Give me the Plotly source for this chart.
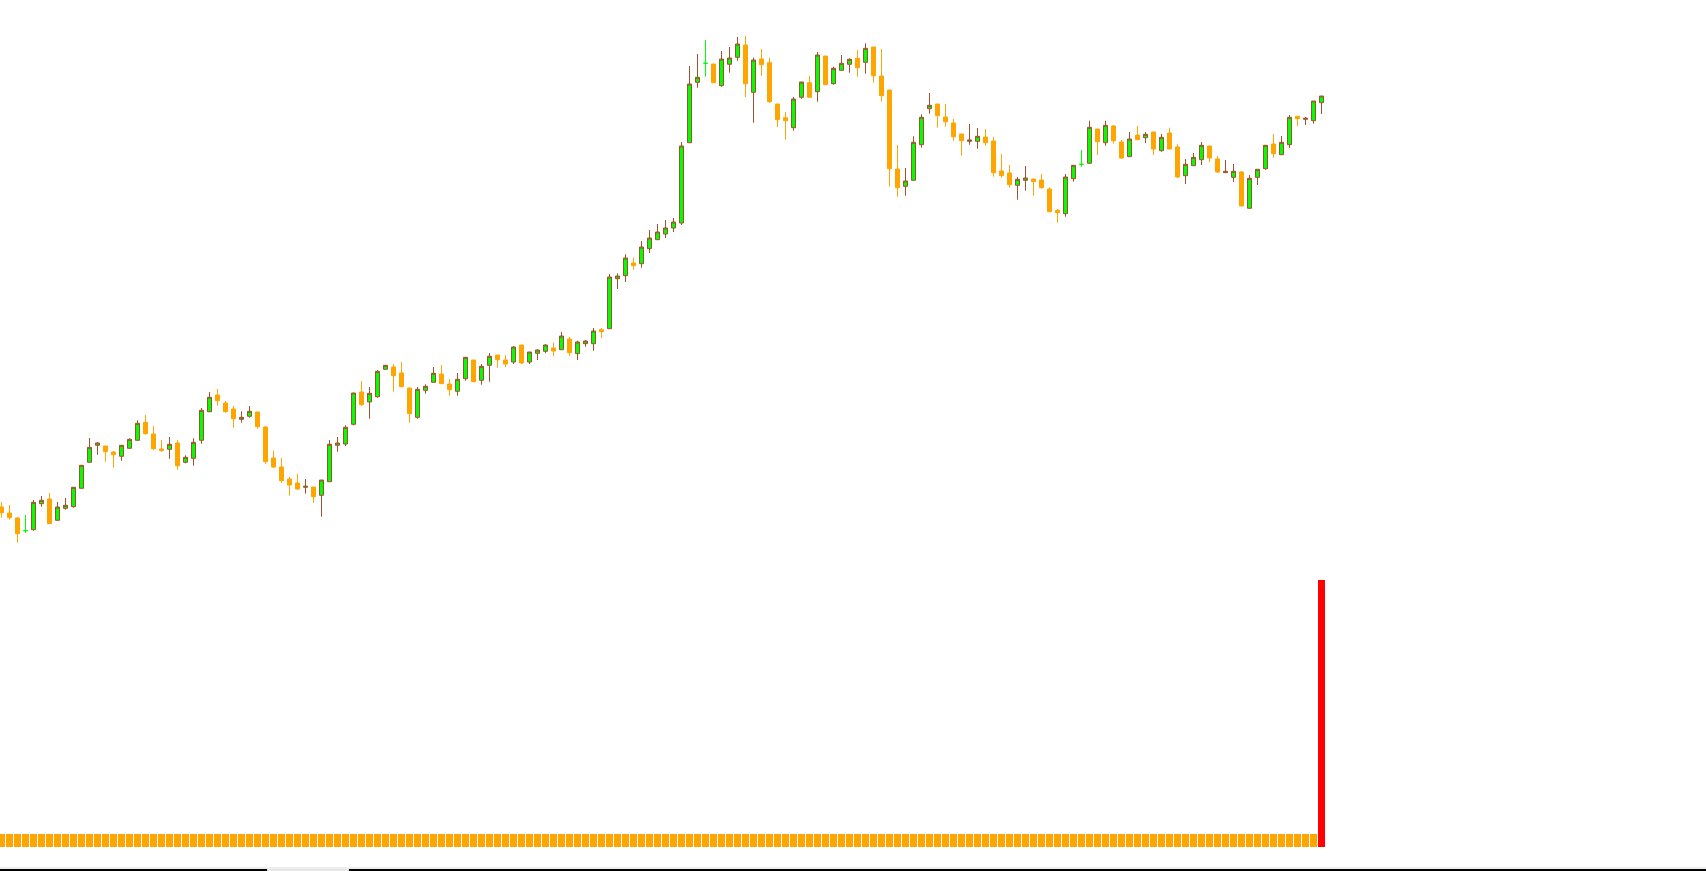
import plotly.graph_objects as go

# ---- data (price units, arbitrary scale) ----
open_ = [93.0, 87.0, 82.0, 69.3, 70.3, 96.3, 101.0, 79.7, 91.7, 93.3,
         111.7, 137.7, 154.7, 154.0, 148.0, 143.7, 151.7, 159.7, 177.7, 166.0,
         151.0, 150.7, 157.0, 137.7, 141.7, 159.7, 188.3, 205.0, 197.0, 191.0,
         180.7, 183.7, 188.0, 173.0, 142.0, 133.0, 121.0, 117.0, 112.7, 113.0,
         104.7, 118.3, 154.7, 156.0, 175.7, 208.0, 198.0, 203.3, 230.7, 233.0,
         227.0, 212.0, 182.7, 209.7, 217.7, 226.0, 216.0, 208.7, 221.3, 240.0,
         219.7, 234.7, 245.0, 240.0, 238.0, 255.0, 238.0, 246.7, 248.7, 252.0,
         250.3, 261.0, 246.3, 256.3, 256.3, 270.3, 271.3, 321.3, 324.3, 337.0,
         336.3, 351.3, 360.3, 366.0, 372.0, 377.0, 457.3, 517.7, 536.7, 536.0,
         514.3, 535.7, 542.7, 555.0, 507.7, 541.0, 537.3, 496.0, 482.3, 472.3,
         502.7, 517.3, 508.3, 544.0, 516.3, 529.7, 535.7, 541.7, 537.7, 553.0,
         524.0, 510.0, 431.0, 413.7, 419.7, 455.3, 491.3, 496.0, 483.0, 477.0,
         466.0, 458.7, 458.7, 463.0, 459.0, 429.0, 427.0, 414.7, 419.7, 421.0,
         420.0, 411.0, 389.7, 386.3, 421.3, 435.7, 436.7, 471.0, 457.3, 474.0,
         458.0, 443.3, 465.0, 462.3, 468.0, 449.3, 467.0, 453.0, 424.3, 434.3,
         440.3, 454.0, 441.0, 427.3, 422.7, 428.0, 391.7, 422.7, 431.3, 456.0,
         445.3, 455.3, 483.7, 480.7, 479.3, 497.3]
high = [98.0, 95.0, 83.0, 85.0, 100.0, 104.0, 107.0, 98.0, 102.0, 113.0,
        134.7, 162.0, 158.0, 154.0, 149.0, 154.7, 161.7, 179.7, 185.0, 174.0,
        160.0, 163.0, 160.0, 144.7, 161.7, 192.0, 208.0, 211.0, 199.0, 194.0,
        188.7, 194.0, 188.0, 174.0, 149.3, 142.0, 123.0, 126.0, 121.0, 113.0,
        120.0, 160.0, 163.0, 174.7, 207.3, 219.0, 213.0, 229.7, 234.7, 236.0,
        238.0, 212.0, 213.0, 215.7, 233.0, 235.0, 221.0, 227.0, 243.0, 240.0,
        236.0, 247.0, 245.0, 245.0, 253.7, 255.0, 248.0, 250.7, 256.0, 257.3,
        268.0, 263.0, 259.3, 260.0, 272.0, 272.0, 326.0, 326.7, 345.7, 342.3,
        359.0, 370.0, 376.0, 380.0, 382.0, 458.0, 534.0, 546.0, 560.0, 536.0,
        549.0, 553.0, 563.0, 564.0, 542.3, 551.0, 542.3, 496.0, 488.0, 503.0,
        518.0, 524.0, 548.0, 544.0, 533.3, 545.0, 541.7, 550.0, 556.7, 553.0,
        551.0, 510.0, 455.0, 432.0, 463.7, 485.7, 507.0, 496.0, 496.0, 481.0,
        466.0, 476.0, 472.0, 471.0, 463.0, 446.0, 435.0, 423.0, 434.0, 421.0,
        426.0, 412.7, 391.0, 426.0, 435.0, 450.0, 479.3, 471.0, 479.3, 475.0,
        460.0, 468.0, 474.0, 468.0, 468.0, 466.0, 472.3, 455.7, 441.0, 447.0,
        458.0, 454.0, 444.0, 440.0, 436.0, 429.0, 425.0, 430.7, 454.7, 466.0,
        464.0, 485.0, 483.7, 483.0, 499.0, 504.0]
low = [82.3, 80.3, 57.3, 67.3, 69.3, 93.3, 76.3, 79.7, 90.3, 92.3,
       111.7, 137.7, 145.3, 138.3, 132.3, 139.3, 151.7, 159.7, 165.3, 150.0,
       148.3, 141.3, 130.3, 136.7, 134.3, 156.3, 188.3, 194.3, 187.3, 172.3,
       177.3, 182.3, 171.3, 136.3, 132.0, 117.3, 104.3, 110.0, 106.3, 97.3,
       83.3, 118.3, 148.3, 154.0, 174.7, 194.3, 181.3, 202.3, 230.7, 208.3,
       213.3, 177.3, 181.3, 206.3, 217.7, 216.3, 204.3, 204.3, 219.3, 218.3,
       215.3, 218.3, 232.3, 233.0, 236.0, 236.0, 236.0, 240.0, 246.7, 244.0,
       250.3, 244.0, 240.0, 253.3, 249.3, 262.0, 271.3, 311.0, 318.0, 330.3,
       332.3, 347.0, 360.3, 362.0, 368.0, 375.0, 457.3, 512.3, 523.3, 517.3,
       513.3, 527.3, 539.3, 503.0, 477.3, 524.3, 497.0, 473.0, 460.3, 469.3,
       501.3, 502.0, 498.3, 515.3, 515.3, 529.7, 527.3, 523.3, 526.3, 517.3,
       498.3, 413.3, 403.3, 404.3, 419.7, 452.3, 486.3, 472.3, 473.3, 459.3,
       444.3, 455.3, 451.3, 454.3, 423.3, 422.3, 412.3, 400.3, 409.3, 404.3,
       411.3, 388.3, 377.3, 383.3, 418.3, 433.3, 436.7, 445.0, 454.3, 456.3,
       441.0, 443.3, 460.3, 457.0, 445.0, 448.3, 451.0, 422.0, 416.0, 434.3,
       435.0, 438.0, 427.0, 427.3, 418.0, 394.0, 391.7, 415.0, 430.3, 442.3,
       445.3, 452.0, 474.0, 475.0, 476.3, 486.0]
close = [87.3, 82.3, 66.3, 69.3, 97.7, 99.7, 76.3, 93.0, 94.7, 112.7,
         134.7, 152.7, 157.0, 148.3, 145.3, 154.7, 160.7, 176.7, 166.3, 151.3,
         149.3, 155.7, 134.3, 142.7, 157.7, 189.7, 202.7, 199.3, 188.3, 181.3,
         182.7, 188.7, 173.3, 138.3, 133.0, 119.3, 115.0, 111.0, 113.7, 103.3,
         120.0, 155.7, 157.0, 172.7, 207.0, 195.3, 206.7, 228.7, 234.7, 224.3,
         213.3, 186.3, 210.7, 213.7, 226.7, 216.3, 210.3, 220.7, 242.7, 218.3,
         233.7, 243.7, 240.3, 236.0, 253.0, 237.0, 248.0, 250.0, 255.0, 249.0,
         264.0, 247.3, 258.0, 259.0, 269.0, 268.3, 323.0, 324.0, 342.0, 334.3,
         353.0, 362.0, 368.0, 372.0, 378.0, 454.0, 516.0, 522.7, 536.7, 517.3,
         541.0, 542.0, 556.0, 516.3, 540.0, 535.3, 498.3, 480.3, 479.3, 501.0,
         518.0, 502.7, 545.0, 515.3, 531.7, 536.7, 540.7, 532.3, 551.7, 524.3,
         504.3, 431.3, 412.3, 419.0, 457.7, 482.7, 494.7, 484.3, 478.3, 463.3,
         459.3, 460.0, 463.7, 457.3, 427.3, 424.3, 415.3, 420.7, 422.0, 418.3,
         412.3, 388.3, 387.3, 423.0, 434.7, 435.7, 472.7, 458.3, 474.7, 459.3,
         442.0, 461.0, 460.3, 465.7, 451.0, 462.7, 451.0, 423.0, 435.7, 442.7,
         454.7, 442.0, 428.0, 428.7, 428.7, 394.0, 421.7, 430.7, 454.7, 446.3,
         457.7, 482.7, 481.3, 481.7, 499.0, 504.0]
volume = [100, 100, 100, 100, 100, 100, 100, 100, 100, 100,
          100, 100, 100, 100, 100, 100, 100, 100, 100, 100,
          100, 100, 100, 100, 100, 100, 100, 100, 100, 100,
          100, 100, 100, 100, 100, 100, 100, 100, 100, 100,
          100, 100, 100, 100, 100, 100, 100, 100, 100, 100,
          100, 100, 100, 100, 100, 100, 100, 100, 100, 100,
          100, 100, 100, 100, 100, 100, 100, 100, 100, 100,
          100, 100, 100, 100, 100, 100, 100, 100, 100, 100,
          100, 100, 100, 100, 100, 100, 100, 100, 100, 100,
          100, 100, 100, 100, 100, 100, 100, 100, 100, 100,
          100, 100, 100, 100, 100, 100, 100, 100, 100, 100,
          100, 100, 100, 100, 100, 100, 100, 100, 100, 100,
          100, 100, 100, 100, 100, 100, 100, 100, 100, 100,
          100, 100, 100, 100, 100, 100, 100, 100, 100, 100,
          100, 100, 100, 100, 100, 100, 100, 100, 100, 100,
          100, 100, 100, 100, 100, 100, 100, 100, 100, 100,
          100, 100, 100, 100, 100, 2054]
# candles drawn as green crosses (open == close)
green_doji = [3, 88, 135]

# ---- styles ----
UP_FILL = "#00ff00"
UP_LINE = "#a0522d"
DOWN = "#ffa500"
VOL_NORMAL = "#ffa500"
VOL_HIGH = "#ff0000"

W, H = 1706, 871
n = len(open_)
x = list(range(n))

def masked(arr, keep):
    return [v if keep(i) else None for i, v in enumerate(arr)]

is_main = lambda i: i not in green_doji

fig = go.Figure()
fig.add_trace(go.Candlestick(
    x=x,
    open=masked(open_, is_main), high=masked(high, is_main),
    low=masked(low, is_main), close=masked(close, is_main),
    increasing=dict(fillcolor=UP_FILL, line=dict(color=UP_LINE, width=1)),
    decreasing=dict(fillcolor=DOWN, line=dict(color=DOWN, width=1)),
    whiskerwidth=0, showlegend=False, hoverinfo="skip",
))
fig.add_trace(go.Candlestick(
    x=green_doji,
    open=[open_[i] for i in green_doji], high=[high[i] for i in green_doji],
    low=[low[i] for i in green_doji], close=[close[i] for i in green_doji],
    increasing=dict(fillcolor=UP_FILL, line=dict(color=UP_FILL, width=1)),
    decreasing=dict(fillcolor=UP_FILL, line=dict(color=UP_FILL, width=1)),
    whiskerwidth=0, showlegend=False, hoverinfo="skip",
))
vmax = max(volume)
fig.add_trace(go.Bar(
    x=x, y=volume, yaxis="y2",
    marker=dict(color=[VOL_HIGH if v == vmax else VOL_NORMAL for v in volume],
                line=dict(width=0)),
    showlegend=False, hoverinfo="skip",
))

px_per_bar = 8.0
x0 = -1.5 / px_per_bar
x1 = x0 + W / px_per_bar

# price axis: value p -> pixel row 600 - p
# volume axis: value v -> pixel row 847 - 0.13 v
vs = 0.13
fig.update_layout(
    width=W, height=H,
    margin=dict(l=0, r=0, t=0, b=0, pad=0),
    paper_bgcolor="white", plot_bgcolor="white",
    bargap=0.125, boxgap=0.5, boxgroupgap=0.0,
    xaxis=dict(range=[x0, x1], visible=False, showgrid=False, zeroline=False,
               rangeslider=dict(visible=False), fixedrange=True),
    yaxis=dict(range=[600 - H, 600], visible=False, showgrid=False,
               zeroline=False, fixedrange=True),
    yaxis2=dict(range=[-(H - 847) / vs, 847 / vs], overlaying="y",
                visible=False, showgrid=False, zeroline=False, fixedrange=True),
    showlegend=False,
)

def py(pxrow):
    return 1 - pxrow / H

shapes = [
    dict(type="rect", xref="paper", yref="paper", x0=0, x1=1,
         y0=py(868.6), y1=py(867.6), fillcolor="#dcdcdc", line=dict(width=0)),
    dict(type="rect", xref="paper", yref="paper", x0=0, x1=267 / W,
         y0=0, y1=py(869), fillcolor="#000000", line=dict(width=0)),
    dict(type="rect", xref="paper", yref="paper", x0=349 / W, x1=1,
         y0=0, y1=py(869), fillcolor="#000000", line=dict(width=0)),
    dict(type="rect", xref="paper", yref="paper", x0=267 / W, x1=349 / W,
         y0=0, y1=py(869), fillcolor="#e6e6e6", line=dict(width=0)),
]
fig.update_layout(shapes=shapes)

fig.write_html("out.html", config={"displayModeBar": False},
               post_script="document.body.style.margin='0';document.body.style.overflow='hidden';")
